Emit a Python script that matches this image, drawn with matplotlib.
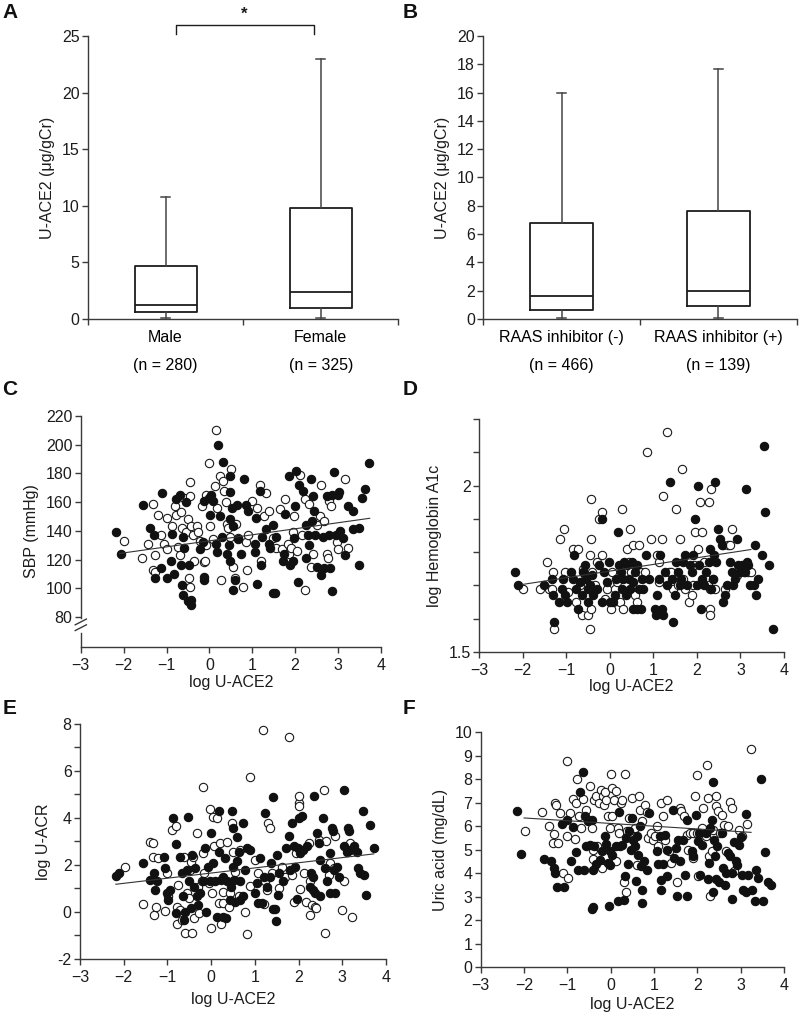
import matplotlib
matplotlib.use('Agg')
import matplotlib.pyplot as plt
import numpy as np

plt.rcParams['font.family'] = ['Liberation Sans', 'DejaVu Sans']
plt.rcParams['font.size'] = 11

ink = '#1c1c1c'
spine_col = '#3a3a3a'

# ---- box plot data (µg/gCr): whisker low, Q1, median, Q3, whisker high
sex_labels = ['Male\n(n = 280)', 'Female\n(n = 325)']
sex_stats = [[0.1, 0.6, 1.2, 4.7, 10.8],
             [0.1, 1.0, 2.4, 9.8, 23.0]]
raas_labels = ['RAAS inhibitor (-)\n(n = 466)', 'RAAS inhibitor (+)\n(n = 139)']
raas_stats = [[0.1, 0.65, 1.6, 6.8, 16.0],
              [0.1, 0.95, 1.95, 7.6, 17.7]]

# ---- scatter data: (log U-ACE2, value); filled / open markers
c_filled = np.array([
    [-2.17, 139], [-2.07, 124], [-1.54, 158], [-1.38, 142], [-1.30, 137], [-1.27, 107], [-1.10, 166],
    [-1.13, 114], [-0.99, 107], [-0.90, 119], [-0.82, 110], [-0.88, 138], [-0.79, 162], [-0.69, 165],
    [-0.64, 102], [-0.62, 95], [-0.50, 91], [-0.42, 92], [-0.44, 88], [-0.59, 128], [-0.61, 136],
    [-0.54, 160], [-0.47, 116], [-0.66, 116], [-0.22, 127], [-0.15, 132], [-0.12, 106], [-0.13, 108],
    [-0.13, 161], [-0.02, 163], [0.01, 151], [0.03, 165], [0.16, 131], [0.17, 125], [0.20, 200],
    [0.32, 188], [0.30, 136], [0.25, 150], [0.09, 161], [0.48, 178], [0.48, 167], [0.52, 156],
    [0.48, 148], [0.46, 130], [0.48, 119], [0.40, 124], [0.55, 143], [0.59, 106], [0.55, 99],
    [0.64, 158], [0.67, 134], [0.74, 124], [0.81, 176], [0.86, 158], [0.90, 154], [1.06, 131],
    [1.07, 125], [1.09, 149], [1.11, 103], [1.18, 168], [1.21, 116], [1.23, 136], [1.33, 141],
    [1.40, 131], [1.42, 128], [1.49, 97], [1.52, 97], [1.48, 144], [1.56, 136], [1.71, 119],
    [1.75, 124], [1.77, 152], [1.86, 178], [1.88, 116], [1.94, 119], [1.98, 135], [2.00, 157],
    [2.02, 182], [2.07, 104], [2.10, 172], [2.19, 168], [2.25, 144], [2.25, 121], [2.29, 137],
    [2.33, 130], [2.37, 176], [2.39, 147], [2.41, 164], [2.45, 154], [2.47, 137], [2.52, 115],
    [2.60, 109], [2.64, 136], [2.68, 114], [2.75, 164], [2.79, 137], [2.82, 114], [2.85, 98],
    [2.87, 165], [2.91, 181], [2.95, 137], [2.99, 165], [3.03, 167], [3.05, 140], [3.11, 135],
    [3.16, 123], [3.24, 157], [3.34, 141], [3.36, 154], [3.48, 142], [3.49, 116], [3.55, 163],
    [3.63, 169], [3.72, 187]])
c_open = np.array([
    [-2.00, 133], [-1.57, 121], [-1.43, 131], [-1.31, 159], [-1.31, 113], [-1.27, 123], [-1.26, 111],
    [-1.20, 151], [-1.12, 137], [-1.06, 131], [-1.00, 127], [-0.99, 149], [-0.88, 143], [-0.81, 157],
    [-0.77, 151], [-0.73, 129], [-0.69, 123], [-0.66, 153], [-0.64, 142], [-0.60, 163], [-0.54, 139],
    [-0.50, 148], [-0.46, 174], [-0.46, 164], [-0.46, 101], [-0.48, 107], [-0.42, 143], [-0.38, 137],
    [-0.36, 119], [-0.30, 143], [-0.27, 139], [-0.22, 133], [-0.18, 157], [-0.13, 118], [-0.11, 119],
    [-0.09, 130], [-0.07, 165], [-0.02, 187], [0.02, 143], [0.09, 134], [0.13, 171], [0.16, 210],
    [0.17, 156], [0.24, 178], [0.28, 106], [0.32, 175], [0.35, 168], [0.38, 160], [0.40, 145],
    [0.43, 142], [0.47, 136], [0.50, 183], [0.54, 115], [0.59, 107], [0.63, 145], [0.67, 135],
    [0.79, 101], [0.85, 132], [0.88, 113], [0.90, 137], [1.00, 161], [1.10, 156], [1.17, 172],
    [1.21, 119], [1.28, 150], [1.33, 166], [1.40, 154], [1.48, 135], [1.56, 128], [1.64, 155],
    [1.70, 127], [1.77, 162], [1.83, 131], [1.86, 124], [1.91, 128], [1.94, 139], [1.97, 150],
    [2.05, 126], [2.12, 179], [2.16, 137], [2.24, 162], [2.24, 99], [2.33, 159], [2.37, 115],
    [2.41, 124], [2.51, 144], [2.57, 150], [2.61, 172], [2.68, 147], [2.75, 124], [2.76, 121],
    [2.80, 161], [2.84, 157], [2.97, 132], [3.00, 127], [3.17, 176], [3.23, 128]])

d_filled = np.array([
    [-2.17, 1.74], [-2.10, 1.70], [-1.52, 1.70], [-1.33, 1.72], [-1.31, 1.67], [-1.28, 1.59],
    [-1.16, 1.65], [-1.10, 1.69], [-1.07, 1.72], [-1.03, 1.67], [-0.99, 1.65], [-0.89, 1.74],
    [-0.85, 1.72], [-0.83, 1.79], [-0.77, 1.69], [-0.72, 1.63], [-0.68, 1.71], [-0.64, 1.67],
    [-0.62, 1.74], [-0.57, 1.76], [-0.54, 1.72], [-0.51, 1.69], [-0.49, 1.65], [-0.45, 1.70],
    [-0.41, 1.73], [-0.38, 1.67], [-0.30, 1.69], [-0.26, 1.76], [-0.18, 1.90], [-0.18, 1.65],
    [-0.13, 1.74], [-0.07, 1.71], [-0.03, 1.77], [0.01, 1.65], [0.08, 1.65], [0.12, 1.67],
    [0.15, 1.72], [0.18, 1.86], [0.20, 1.76], [0.25, 1.74], [0.28, 1.69], [0.31, 1.72],
    [0.33, 1.77], [0.37, 1.67], [0.39, 1.76], [0.45, 1.72], [0.47, 1.69], [0.50, 1.77],
    [0.53, 1.71], [0.54, 1.63], [0.58, 1.74], [0.62, 1.76], [0.63, 1.63], [0.68, 1.69],
    [0.71, 1.63], [0.73, 1.72], [0.77, 1.69], [0.83, 1.79], [0.89, 1.72], [1.04, 1.63],
    [1.06, 1.61], [1.09, 1.67], [1.12, 1.72], [1.16, 1.79], [1.19, 1.63], [1.23, 1.61],
    [1.27, 1.74], [1.31, 1.70], [1.38, 2.01], [1.42, 1.72], [1.46, 1.59], [1.49, 1.67],
    [1.53, 1.77], [1.57, 1.74], [1.61, 1.70], [1.64, 1.72], [1.69, 1.77], [1.73, 1.79],
    [1.78, 1.70], [1.84, 1.76], [1.88, 1.74], [1.92, 1.79], [1.96, 1.90], [2.00, 1.70],
    [2.03, 2.00], [2.05, 1.76], [2.09, 1.63], [2.11, 1.72], [2.16, 1.70], [2.22, 1.74],
    [2.27, 1.77], [2.30, 1.81], [2.32, 1.69], [2.36, 1.72], [2.42, 2.01], [2.40, 1.79],
    [2.44, 1.77], [2.49, 1.87], [2.53, 1.84], [2.57, 1.82], [2.61, 1.65], [2.65, 1.67],
    [2.68, 1.70], [2.76, 1.77], [2.80, 1.74], [2.84, 1.70], [2.88, 1.72], [2.93, 1.84],
    [2.95, 1.76], [2.99, 1.74], [3.03, 1.76], [3.11, 1.74], [3.13, 1.99], [3.14, 1.77],
    [3.18, 1.76], [3.22, 1.70], [3.30, 1.70], [3.34, 1.82], [3.36, 1.67], [3.41, 1.72],
    [3.49, 1.79], [3.53, 2.12], [3.56, 1.92], [3.66, 1.76], [3.74, 1.57]])
d_open = np.array([
    [-2.00, 1.69], [-1.60, 1.69], [-1.45, 1.77], [-1.39, 1.69], [-1.33, 1.69], [-1.30, 1.74],
    [-1.28, 1.57], [-1.14, 1.84], [-1.05, 1.87], [-1.03, 1.74], [-0.95, 1.68], [-0.85, 1.81],
    [-0.77, 1.65], [-0.72, 1.81], [-0.68, 1.70], [-0.64, 1.61], [-0.62, 1.75], [-0.57, 1.73],
    [-0.49, 1.61], [-0.45, 1.57], [-0.44, 1.63], [-0.44, 1.96], [-0.44, 1.84], [-0.45, 1.79],
    [-0.40, 1.74], [-0.34, 1.70], [-0.29, 1.77], [-0.24, 1.90], [-0.18, 1.92], [-0.18, 1.79],
    [-0.11, 1.66], [-0.07, 1.69], [0.02, 1.63], [0.04, 1.74], [0.12, 1.69], [0.16, 1.71],
    [0.23, 1.65], [0.27, 1.93], [0.30, 1.63], [0.39, 1.81], [0.43, 1.77], [0.47, 1.87],
    [0.48, 1.74], [0.54, 1.82], [0.58, 1.67], [0.62, 1.65], [0.66, 1.82], [0.71, 1.74],
    [0.81, 1.74], [0.86, 2.10], [0.94, 1.84], [1.08, 1.79], [1.12, 1.77], [1.14, 1.71],
    [1.19, 1.84], [1.22, 1.97], [1.32, 2.16], [1.35, 1.74], [1.40, 1.74], [1.46, 1.69],
    [1.52, 1.93], [1.57, 1.70], [1.62, 1.84], [1.65, 2.05], [1.69, 1.72], [1.73, 1.69],
    [1.81, 1.65], [1.88, 1.67], [1.92, 1.70], [1.93, 1.76], [1.96, 1.86], [2.03, 1.81],
    [2.06, 1.95], [2.11, 1.86], [2.16, 1.77], [2.21, 1.72], [2.26, 1.70], [2.27, 1.95],
    [2.29, 1.63], [2.29, 1.61], [2.31, 1.69], [2.33, 1.99], [2.38, 1.72], [2.42, 1.69],
    [2.59, 1.82], [2.65, 1.69], [2.72, 1.82], [2.76, 1.82], [2.80, 1.87], [2.91, 1.73],
    [2.99, 1.74], [3.07, 1.74], [3.17, 1.74], [3.24, 1.74]])

e_filled = np.array([
    [-2.18, 1.55], [-2.10, 1.68], [-1.55, 2.08], [-1.40, 1.37], [-1.31, 1.65], [-1.28, 0.94],
    [-1.24, 1.30], [-1.08, 2.36], [-1.05, 1.86], [-1.02, 0.80], [-0.98, 0.51], [-0.94, 0.94],
    [-0.88, 3.99], [-0.80, 2.90], [-0.80, -0.06], [-0.71, 2.36], [-0.67, 1.65], [-0.65, 0.66],
    [-0.63, -0.35], [-0.60, 0.01], [-0.56, 1.79], [-0.52, 4.04], [-0.50, 1.30], [-0.47, 0.16],
    [-0.44, 2.43], [-0.40, 1.08], [-0.37, 1.86], [-0.33, 0.66], [-0.29, 0.30], [-0.25, 0.80],
    [-0.18, 1.30], [-0.15, 2.72], [-0.11, 0.01], [-0.08, 1.93], [-0.02, 1.30], [0.00, 3.35],
    [0.05, 2.08], [0.09, 1.30], [0.13, -0.20], [0.17, 2.57], [0.19, 4.28], [0.22, 1.37],
    [0.27, -0.20], [0.28, 1.51], [0.32, 2.29], [0.34, -0.27], [0.37, 1.30], [0.42, 0.51],
    [0.45, 1.08], [0.47, 4.28], [0.49, 3.57], [0.51, 1.93], [0.53, 1.37], [0.55, 0.44],
    [0.59, 3.21], [0.60, 2.15], [0.63, 2.57], [0.65, 1.30], [0.66, 0.51], [0.72, 0.66],
    [0.74, 3.78], [0.78, 1.79], [0.83, 2.72], [0.88, 2.65], [1.01, 0.80], [1.05, 1.22],
    [1.07, 0.40], [1.12, 2.29], [1.16, 0.37], [1.20, 1.51], [1.24, 4.21], [1.27, 1.08],
    [1.34, 1.51], [1.37, 2.08], [1.41, 0.12], [1.41, 4.88], [1.47, 0.12], [1.49, -0.37],
    [1.50, 2.43], [1.52, 0.73], [1.56, 1.65], [1.64, 1.30], [1.72, 2.72], [1.77, 3.24],
    [1.81, 1.79], [1.85, 3.78], [1.89, 2.79], [1.92, 1.93], [1.96, 0.54], [1.98, 2.72],
    [2.02, 3.99], [2.04, 2.50], [2.08, 4.07], [2.11, 2.65], [2.19, 2.79], [2.25, 1.08],
    [2.28, 1.65], [2.32, 1.51], [2.34, 0.94], [2.36, 4.92], [2.38, 0.80], [2.42, 3.35],
    [2.46, 2.93], [2.48, 2.22], [2.50, 0.66], [2.56, 3.99], [2.61, 1.86], [2.65, 1.30],
    [2.71, 0.80], [2.73, 2.50], [2.76, 3.57], [2.79, 3.43], [2.80, 1.79], [2.84, 0.80],
    [2.88, 1.93], [2.92, 1.51], [3.03, 2.79], [3.05, 5.17], [3.11, 2.57], [3.13, 3.57],
    [3.15, 3.43], [3.17, 2.65], [3.27, 2.79], [3.34, 2.57], [3.37, 1.86], [3.40, 1.65],
    [3.47, 4.31], [3.50, 1.58], [3.55, 0.73], [3.64, 3.71], [3.72, 2.74]])
e_open = np.array([
    [-1.98, 1.93], [-1.56, 0.34], [-1.40, 2.96], [-1.32, 2.93], [-1.32, 2.36], [-1.31, -0.13],
    [-1.26, 0.23], [-1.21, 2.29], [-1.05, 0.06], [-1.02, 1.65], [-0.98, 0.66], [-0.90, 3.50],
    [-0.81, 3.67], [-0.79, 0.20], [-0.79, -0.51], [-0.75, 1.15], [-0.71, 0.09], [-0.67, -0.34],
    [-0.63, 2.36], [-0.60, -0.91], [-0.56, 0.80], [-0.50, 0.59], [-0.48, 1.79], [-0.47, 2.11],
    [-0.44, -0.91], [-0.42, 2.36], [-0.40, -0.27], [-0.33, 3.35], [-0.29, 1.08], [-0.27, -0.06],
    [-0.21, 1.30], [-0.19, 5.31], [-0.18, 2.50], [-0.16, 1.65], [-0.06, 1.22], [-0.02, 4.38],
    [-0.01, -0.69], [0.02, 0.80], [0.05, 4.04], [0.07, 2.79], [0.13, 3.99], [0.17, 0.37],
    [0.21, 2.93], [0.23, -0.51], [0.27, 0.87], [0.28, 0.40], [0.36, 2.96], [0.40, 0.23],
    [0.44, 0.80], [0.47, 3.78], [0.50, 2.57], [0.55, 1.72], [0.63, 0.66], [0.66, 2.65],
    [0.78, 0.01], [0.83, -0.93], [0.88, 5.74], [0.89, 1.11], [1.01, 2.22], [1.08, 1.65],
    [1.18, 7.73], [1.20, 0.34], [1.24, 1.30], [1.27, 0.94], [1.31, 3.78], [1.34, 3.57],
    [1.39, 1.65], [1.56, 1.01], [1.61, 1.93], [1.69, 1.51], [1.79, 7.45], [1.85, 1.58],
    [1.89, 0.44], [1.95, 2.50], [2.00, 4.63], [2.02, 4.92], [2.02, 4.49], [2.04, 0.97],
    [2.13, 1.68], [2.18, 0.44], [2.23, 2.93], [2.25, -0.13], [2.27, 1.30], [2.31, 0.30],
    [2.38, 0.20], [2.40, 0.16], [2.46, 3.07], [2.59, 5.17], [2.61, -0.91], [2.63, 3.00],
    [2.69, 1.58], [2.73, 2.08], [2.80, 1.86], [2.84, 3.24], [2.99, 0.09], [3.03, 1.30],
    [3.18, 2.93], [3.22, -0.20]])

f_filled = np.array([
    [-2.16, 6.62], [-2.08, 4.81], [-1.54, 4.61], [-1.37, 4.50], [-1.31, 4.21], [-1.29, 4.00],
    [-1.25, 3.40], [-1.08, 3.40], [-1.12, 6.10], [-1.02, 6.27], [-0.92, 4.50], [-0.87, 5.94],
    [-0.81, 4.89], [-0.75, 4.11], [-0.70, 7.43], [-0.64, 8.30], [-0.62, 4.11], [-0.60, 6.41],
    [-0.56, 5.13], [-0.52, 6.23], [-0.47, 5.21], [-0.44, 6.27], [-0.44, 2.47], [-0.42, 2.55],
    [-0.41, 4.11], [-0.38, 5.13], [-0.33, 4.38], [-0.25, 4.57], [-0.21, 4.92], [-0.13, 5.56],
    [-0.10, 5.25], [-0.06, 4.43], [-0.04, 2.58], [-0.02, 4.92], [-0.01, 4.33], [0.04, 4.78],
    [0.13, 5.13], [0.17, 2.79], [0.19, 6.58], [0.21, 5.13], [0.25, 5.21], [0.30, 2.87],
    [0.32, 3.86], [0.36, 5.49], [0.40, 4.38], [0.43, 5.77], [0.46, 4.99], [0.50, 6.34],
    [0.52, 5.42], [0.56, 5.13], [0.58, 3.67], [0.61, 5.56], [0.63, 4.78], [0.67, 5.99],
    [0.69, 4.28], [0.73, 3.29], [0.73, 2.72], [0.76, 4.50], [0.84, 4.14], [0.89, 6.55],
    [1.06, 4.92], [1.10, 4.40], [1.13, 5.59], [1.16, 3.29], [1.17, 3.72], [1.21, 4.40],
    [1.25, 5.63], [1.29, 4.99], [1.31, 3.89], [1.43, 6.70], [1.46, 4.64], [1.50, 5.06],
    [1.52, 3.01], [1.56, 5.42], [1.61, 4.50], [1.66, 5.42], [1.71, 3.93], [1.77, 3.01],
    [1.77, 6.24], [1.87, 4.92], [1.90, 4.71], [1.97, 6.48], [2.02, 5.35], [2.04, 5.70],
    [2.07, 3.93], [2.10, 5.21], [2.20, 5.70], [2.25, 3.74], [2.27, 4.43], [2.30, 5.92],
    [2.33, 6.27], [2.35, 7.89], [2.37, 3.18], [2.38, 5.42], [2.40, 4.71], [2.43, 3.74],
    [2.46, 5.13], [2.50, 3.60], [2.56, 5.70], [2.60, 4.21], [2.64, 3.50], [2.67, 4.00],
    [2.71, 4.85], [2.75, 4.71], [2.79, 4.00], [2.81, 2.89], [2.85, 5.30], [2.89, 4.50],
    [2.92, 4.33], [2.97, 5.21], [3.00, 5.53], [3.02, 3.93], [3.06, 3.29], [3.12, 3.18],
    [3.13, 6.51], [3.17, 3.93], [3.27, 3.29], [3.33, 2.79], [3.35, 4.11], [3.40, 3.79],
    [3.46, 8.00], [3.52, 2.79], [3.56, 4.89], [3.64, 3.60], [3.71, 3.50]])
f_open = np.array([
    [-1.98, 5.80], [-1.58, 6.60], [-1.42, 6.01], [-1.33, 5.28], [-1.31, 5.66], [-1.29, 6.98],
    [-1.27, 6.91], [-1.21, 5.28], [-1.18, 6.55], [-1.11, 4.00], [-1.02, 8.78], [-1.01, 5.59],
    [-0.98, 3.79], [-0.93, 6.55], [-0.87, 7.15], [-0.83, 5.45], [-0.81, 6.98], [-0.78, 8.00],
    [-0.73, 6.41], [-0.68, 5.91], [-0.64, 7.15], [-0.56, 6.70], [-0.52, 6.27], [-0.48, 7.72],
    [-0.44, 5.91], [-0.42, 4.60], [-0.41, 4.99], [-0.39, 7.09], [-0.33, 7.26], [-0.31, 5.16],
    [-0.27, 6.98], [-0.23, 7.55], [-0.21, 4.21], [-0.17, 7.26], [-0.16, 6.91], [-0.13, 7.43],
    [-0.10, 7.12], [-0.06, 6.41], [-0.02, 5.91], [0.00, 8.23], [0.02, 6.41], [0.04, 7.62],
    [0.07, 7.12], [0.12, 7.48], [0.13, 4.50], [0.17, 5.91], [0.19, 5.70], [0.23, 6.98],
    [0.27, 7.12], [0.30, 3.60], [0.32, 8.23], [0.35, 3.18], [0.38, 5.77], [0.43, 6.34],
    [0.48, 7.19], [0.52, 5.59], [0.56, 5.91], [0.61, 4.35], [0.66, 7.29], [0.67, 6.70],
    [0.73, 6.20], [0.79, 6.91], [0.83, 6.58], [0.86, 5.49], [0.92, 5.70], [0.98, 5.42],
    [1.02, 5.59], [1.06, 5.99], [1.10, 5.13], [1.15, 6.98], [1.20, 6.41], [1.25, 5.42],
    [1.29, 7.12], [1.35, 4.92], [1.38, 4.43], [1.52, 3.60], [1.60, 6.77], [1.63, 6.62],
    [1.68, 6.41], [1.75, 5.63], [1.79, 4.99], [1.83, 5.70], [1.89, 5.70], [1.90, 4.64],
    [1.94, 7.26], [1.98, 5.70], [2.00, 8.18], [2.02, 3.86], [2.10, 5.91], [2.13, 6.77],
    [2.20, 5.56], [2.23, 8.61], [2.25, 7.19], [2.27, 4.71], [2.29, 3.01], [2.33, 4.92],
    [2.37, 5.84], [2.43, 6.87], [2.44, 7.29], [2.48, 6.62], [2.52, 5.70], [2.58, 6.48],
    [2.61, 6.06], [2.66, 4.92], [2.71, 6.01], [2.75, 7.01], [2.81, 6.77], [2.85, 4.07],
    [2.97, 5.84], [3.02, 5.56], [3.14, 6.10], [3.23, 9.29]])

# regression lines: (x start, x end, slope, intercept)
c_fit = [-2.1, 3.74, 4.2, 133.0]
d_fit = [-2.0, 3.24, 0.020, 1.743]
e_fit = [-2.18, 3.72, 0.219, 1.657]
f_fit = [-2.0, 3.24, -0.117, 6.11]

fig = plt.figure(figsize=(8, 10.19), dpi=100)


def style_axes(ax):
    for s in ['top', 'right']:
        ax.spines[s].set_visible(False)
    for s in ['left', 'bottom']:
        ax.spines[s].set_color(spine_col)
        ax.spines[s].set_linewidth(1.0)
    ax.tick_params(direction='out', length=4, width=1.0, color=spine_col, labelcolor=ink,
                   labelsize=11.5, pad=2)


def box_panel(ax, stats, labels, ymax, ystep):
    bstats = [dict(whislo=s[0], q1=s[1], med=s[2], q3=s[3], whishi=s[4], fliers=[]) for s in stats]
    ax.bxp(bstats, positions=[0, 1], widths=0.4, capwidths=0.06, showfliers=False,
           boxprops=dict(color=ink, linewidth=1.3),
           medianprops=dict(color=ink, linewidth=1.3),
           whiskerprops=dict(color='#444444', linewidth=1.1),
           capprops=dict(color='#444444', linewidth=1.1))
    style_axes(ax)
    ax.set_xlim(-0.5, 1.5)
    ax.set_ylim(0, ymax)
    ax.set_yticks(np.arange(0, ymax + 0.01, ystep))
    ax.set_xticks([-0.5, 0.5, 1.5])
    ax.set_xticklabels(['', '', ''])
    ax.set_xticks([0, 1], minor=True)
    ax.set_xticklabels(labels, minor=True)
    ax.tick_params(axis='x', which='minor', length=0, pad=8)
    for t in ax.get_xticklabels(minor=True):
        t.set_linespacing(2.05)
        t.set_fontsize(11.5)
    ax.set_ylabel('U-ACE2 (\u03bcg/gCr)', fontsize=11.5, color=ink, labelpad=5)


def scatter_panel(ax, filled, opened, fit, ylabel):
    ax.scatter(opened[:, 0], opened[:, 1], s=36, facecolors='white', edgecolors='#1a1a1a',
               linewidths=0.8, zorder=3, clip_on=False)
    ax.scatter(filled[:, 0], filled[:, 1], s=36, facecolors='#111111', edgecolors='#111111',
               linewidths=0.8, zorder=3, clip_on=False)
    fx = np.array(fit[:2])
    ax.plot(fx, fit[2] * fx + fit[3], color='#333333', linewidth=0.8, zorder=4)
    style_axes(ax)
    ax.tick_params(axis='x', pad=4)
    ax.set_xlim(-3, 4)
    ax.set_xticks(np.arange(-3, 5, 1))
    ax.set_xlabel('log U-ACE2', fontsize=11.5, color=ink, labelpad=3)
    ax.set_ylabel(ylabel, fontsize=11.5, color=ink, labelpad=5)


# ---- A
axA = fig.add_axes([0.110, 0.687, 0.388, 0.2777])
box_panel(axA, sex_stats, sex_labels, 25, 5)
axA.plot([0.07, 0.07, 0.955, 0.955], [25.2, 25.97, 25.97, 25.2], color=ink, linewidth=1.0,
         clip_on=False)
axA.text(0.506, 26.9, '*', ha='center', va='center', fontsize=12, fontweight='bold', color=ink)

# ---- B
axB = fig.add_axes([0.604, 0.687, 0.392, 0.2777])
box_panel(axB, raas_stats, raas_labels, 20, 2)

# ---- C (broken y axis)
axC = fig.add_axes([0.101, 0.365, 0.375, 0.2268])
scatter_panel(axC, c_filled, c_open, c_fit, 'SBP (mmHg)')
axC.xaxis.labelpad = 1
axC.set_ylim(59, 220)
axC.set_yticks(np.arange(80, 221, 20))
axC.spines['left'].set_bounds(79.3, 220)
axC.plot([-3, -3], [59, 69], color=spine_col, linewidth=1.0, clip_on=False)
for yb in [72.5, 76.5]:
    axC.plot([-3.13, -2.87], [yb - 2.0, yb + 2.0], color=spine_col, linewidth=1.0, clip_on=False)

# ---- D
axD = fig.add_axes([0.599, 0.3602, 0.381, 0.2286])
scatter_panel(axD, d_filled, d_open, d_fit, 'log Hemoglobin A1c')
axD.xaxis.labelpad = 1
axD.set_ylim(1.5, 2.2)
axD.set_yticks(np.round(np.arange(1.5, 2.21, 0.1), 1))
axD.set_yticklabels(['1.5', '', '', '', '', '2', '', ''])

# ---- E
axE = fig.add_axes([0.100, 0.0589, 0.3825, 0.2306])
scatter_panel(axE, e_filled, e_open, e_fit, 'log U-ACR')
axE.xaxis.labelpad = 5
axE.set_ylim(-2, 8)
axE.set_yticks(np.arange(-2, 9, 1))
axE.set_yticklabels([str(v) if v % 2 == 0 else '' for v in range(-2, 9)])

# ---- F
axF = fig.add_axes([0.601, 0.051, 0.379, 0.2306])
scatter_panel(axF, f_filled, f_open, f_fit, 'Uric acid (mg/dL)')
axF.set_ylim(0, 10)
axF.set_yticks(np.arange(0, 11, 1))

# panel letters
for letter, x, y in [('A', 0.003, 0.997), ('B', 0.503, 0.997), ('C', 0.003, 0.627),
                     ('D', 0.503, 0.627), ('E', 0.003, 0.314), ('F', 0.503, 0.314)]:
    fig.text(x, y, letter, fontsize=15, fontweight='bold', ha='left', va='top', color='#111111')

fig.savefig('out.png', dpi=100)
